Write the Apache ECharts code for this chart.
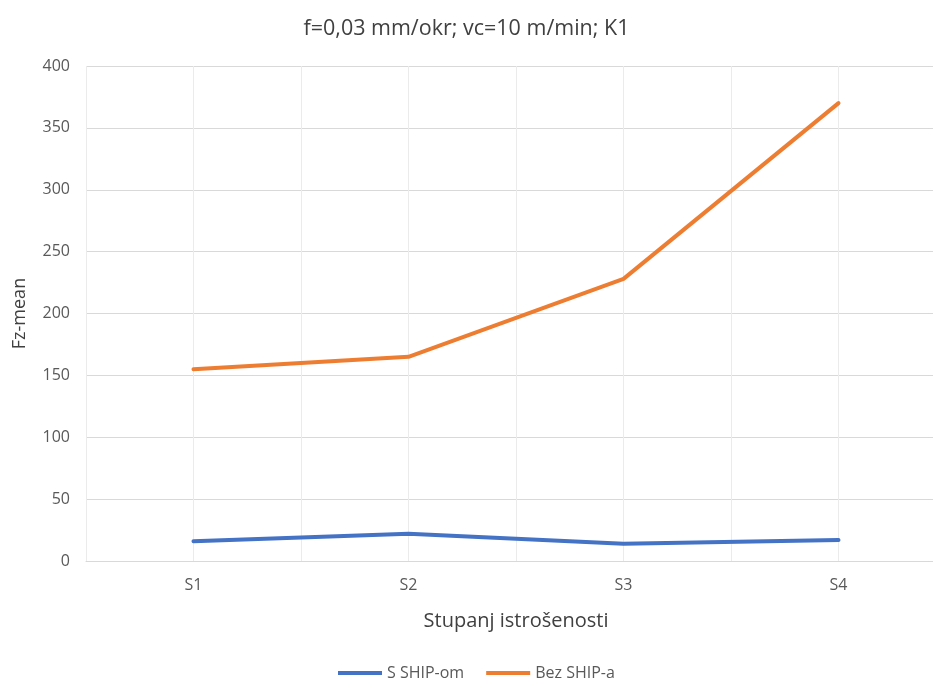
<!DOCTYPE html>
<html>
<head>
<meta charset="utf-8">
<script src="https://cdn.jsdelivr.net/npm/echarts@6/dist/echarts.min.js"></script>
<style>
html,body{margin:0;padding:0;background:#fff;}
#chart{width:933px;height:681px;}
</style>
</head>
<body>
<div id="chart"></div>
<script>
var titleText = 'f=0,03 mm/okr; vc=10 m/min; K1';
var categories = ['S1', 'S2', 'S3', 'S4'];
var seriesNames = ['S SHIP-om', 'Bez SHIP-a'];
var sShipOm = [16, 22, 14, 17];
var bezShipA = [155, 165, 228, 370];
var yTicks = {min: 0, max: 400, interval: 50};
var xAxisName = 'Stupanj istrošenosti';
var yAxisName = 'Fz-mean';

var font = '"Open Sans", "Noto Sans", sans-serif';
var chart = echarts.init(document.getElementById('chart'));
chart.setOption({
  backgroundColor: '#ffffff',
  animation: false,
  textStyle: {fontFamily: font},
  title: {
    text: titleText,
    left: 'center',
    top: 13,
    textStyle: {fontSize: 21.5, fontWeight: 'normal', color: '#404040', fontFamily: font}
  },
  legend: {
    top: 665,
    left: 338,
    padding: 0,
    icon: 'rect',
    itemWidth: 44,
    itemHeight: 4,
    itemGap: 22,
    textStyle: {fontSize: 16, color: '#595959', fontFamily: font},
    data: seriesNames
  },
  grid: {left: 86, top: 66, bottom: 120, right: -13, containLabel: false, outerBoundsMode: 'none'},
  xAxis: [
    {
      type: 'category',
      data: categories,
      boundaryGap: true,
      axisLine: {lineStyle: {color: '#d9d9d9', width: 1}},
      axisTick: {show: false},
      splitLine: {show: false},
      axisLabel: {fontSize: 16, color: '#595959', margin: 16, fontFamily: font},
      name: xAxisName,
      nameLocation: 'middle',
      nameGap: 50,
      nameTextStyle: {fontSize: 20, color: '#404040', fontFamily: font}
    },
    {
      type: 'value',
      min: 0,
      max: categories.length * 2,
      interval: 1,
      position: 'bottom',
      axisLine: {show: false},
      axisTick: {show: false},
      axisLabel: {show: false},
      splitLine: {show: true, lineStyle: {color: '#ebebeb', width: 1}}
    }
  ],
  yAxis: {
    type: 'value',
    min: yTicks.min,
    max: yTicks.max,
    interval: yTicks.interval,
    axisLine: {show: false},
    axisTick: {show: false},
    axisLabel: {fontSize: 16, color: '#595959', margin: 16, fontFamily: font},
    splitLine: {lineStyle: {color: '#d9d9d9', width: 1}},
    name: yAxisName,
    nameLocation: 'middle',
    nameGap: 57,
    nameTextStyle: {fontSize: 18, color: '#404040', fontFamily: font}
  },
  series: [
    {
      name: seriesNames[0],
      type: 'line',
      data: sShipOm,
      xAxisIndex: 0,
      symbol: 'none',
      lineStyle: {color: '#4472C4', width: 4, cap: 'round', join: 'round'},
      itemStyle: {color: '#4472C4'}
    },
    {
      name: seriesNames[1],
      type: 'line',
      data: bezShipA,
      xAxisIndex: 0,
      symbol: 'none',
      lineStyle: {color: '#ED7D31', width: 4, cap: 'round', join: 'round'},
      itemStyle: {color: '#ED7D31'}
    }
  ]
});
</script>
</body>
</html>
